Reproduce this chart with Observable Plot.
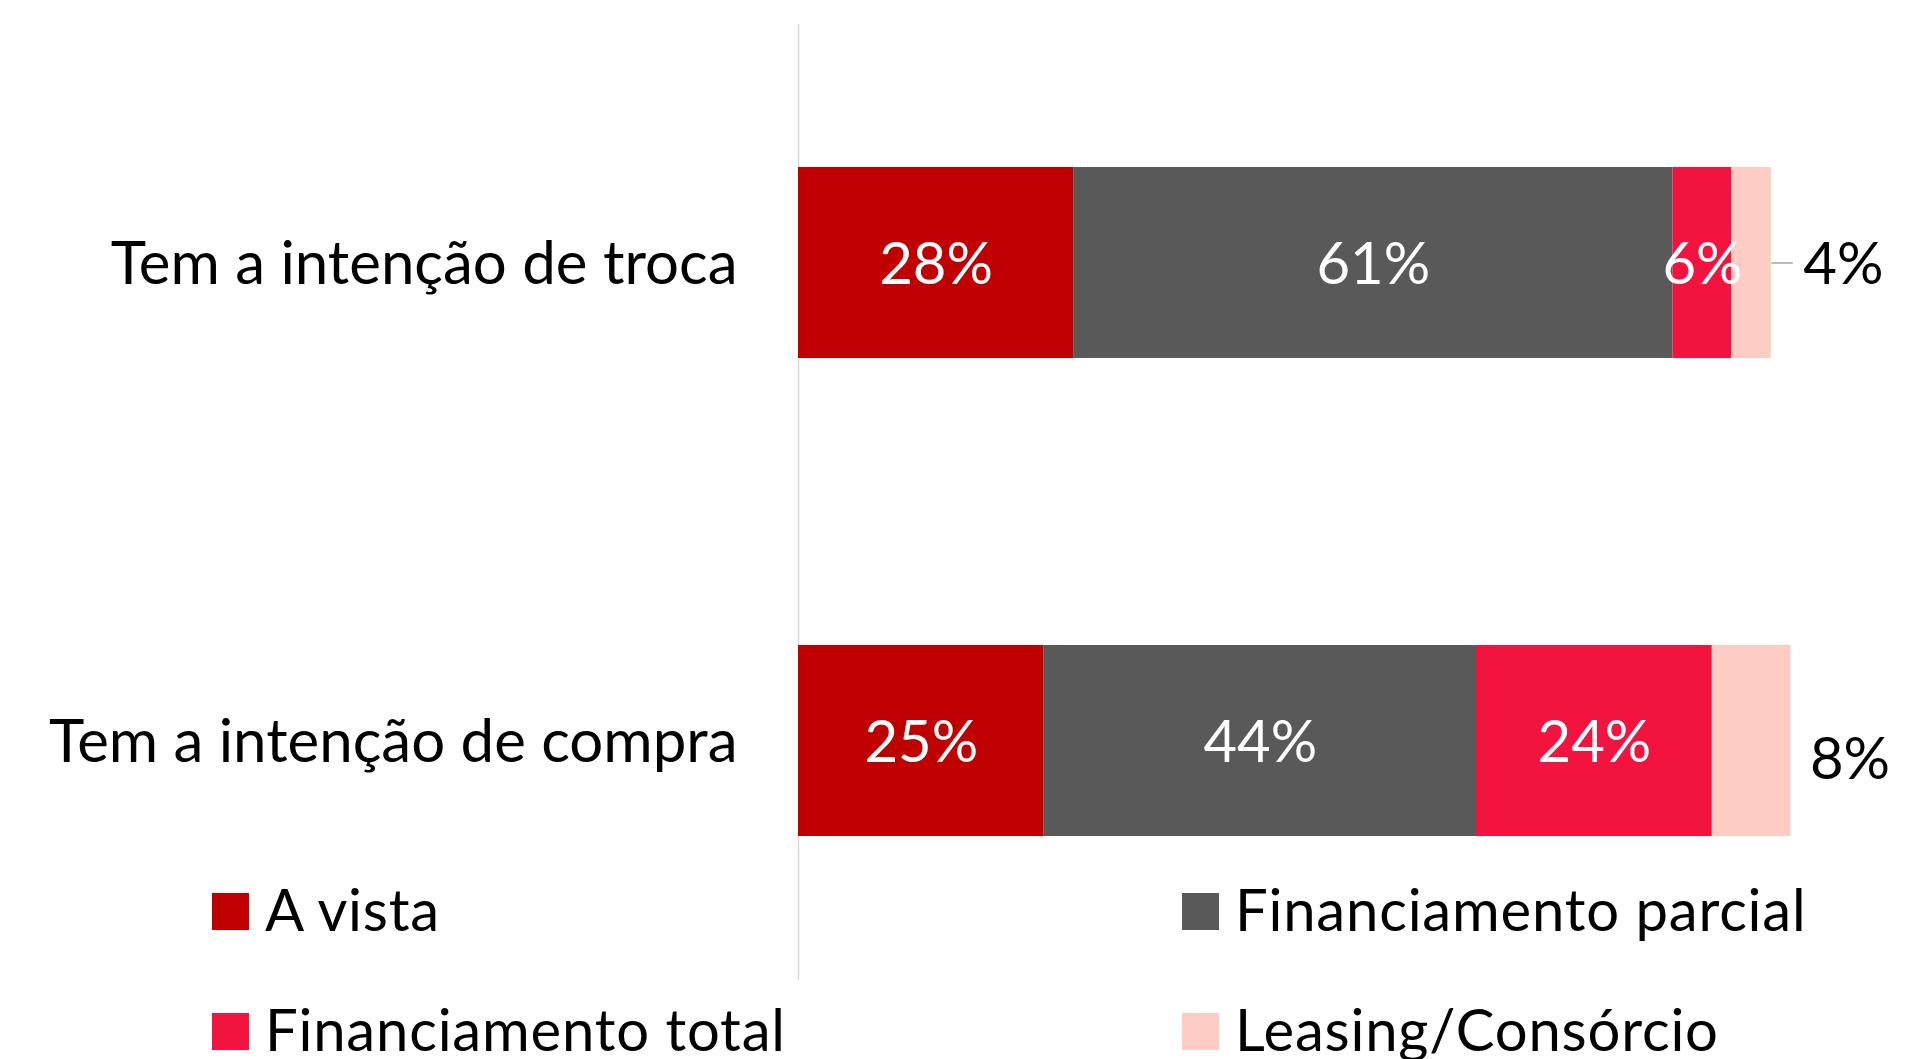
<!DOCTYPE html>
<html>
<head>
<meta charset="utf-8">
<script src="https://cdn.jsdelivr.net/npm/d3@7"></script>
<script src="https://cdn.jsdelivr.net/npm/@observablehq/plot@0.6"></script>
<style>
  html, body { margin: 0; padding: 0; background: #fff; }
  #wrap { position: relative; width: 1932px; height: 1059px; overflow: hidden; font-family: Lato, "Open Sans", sans-serif; }
  #legend { position: absolute; left: 0; top: 0; }
</style>
</head>
<body>
<div id="wrap"></div>
<script>
const categories = ["Tem a intenção de troca", "Tem a intenção de compra"];
const series = ["A vista", "Financiamento parcial", "Financiamento total", "Leasing/Consórcio"];
const trocaValues = [28, 61, 6, 4];
const compraValues = [25, 44, 24, 8];
const colors = ["#C00000", "#595959", "#F2143F", "#FDCCC2"];

const valuesByCategory = [trocaValues, compraValues];
const data = categories.flatMap((c, i) => series.map((s, j) => ({category: c, series: s, value: valuesByCategory[i][j]})));
const totals = categories.map((c, i) => ({category: c, total: d3.sum(valuesByCategory[i]), last: valuesByCategory[i][series.length - 1]}));

const FONT = "Lato, 'Open Sans', sans-serif";
const lastSeries = series[series.length - 1];

const chart = Plot.plot({
  width: 1932,
  height: 981,
  marginLeft: 798,
  marginRight: 151.4,
  marginTop: 24,
  marginBottom: 1,
  style: {fontFamily: FONT, background: "transparent", overflow: "visible"},
  x: {domain: [0, 100], axis: null},
  y: {domain: categories, paddingInner: 0.6, paddingOuter: 0.3, axis: null},
  color: {domain: series, range: colors},
  marks: [
    Plot.ruleX([0], {stroke: "#d9d9d9", strokeWidth: 1.5}),
    Plot.barX(data, Plot.stackX({x: "value", y: "category", fill: "series"})),
    Plot.text(data, Plot.stackX({
      x: "value", y: "category", z: "series",
      text: d => d.series === lastSeries ? "" : d.value + "%",
      fill: "white", fontSize: 58, dy: 2
    })),
    Plot.link(totals.filter(d => d.category === categories[0]), {
      x1: d => d.total, x2: d => d.total + 2.2, y1: "category", y2: "category",
      stroke: "#a6a6a6", strokeWidth: 1.5
    }),
    Plot.text(totals.filter(d => d.category === categories[0]), {
      x: "total", y: "category", text: d => d.last + "%",
      textAnchor: "start", dx: 32, dy: 2, fontSize: 58, fill: "black"
    }),
    Plot.text(totals.filter(d => d.category === categories[1]), {
      x: "total", y: "category", text: d => d.last + "%",
      textAnchor: "start", dx: 19, dy: 19, fontSize: 58, fill: "black"
    }),
    Plot.axisY({tickSize: 0, tickPadding: 61, fontSize: 60, dy: 2, color: "black", label: null})
  ]
});
document.getElementById("wrap").appendChild(chart);

// Legend (two columns, row-major)
const svg = d3.select("#wrap").append("svg")
  .attr("id", "legend").attr("width", 1932).attr("height", 1059)
  .style("pointer-events", "none");
const colX = [212, 1182];
const rowTop = [893, 1013];
const sw = 37;
const item = svg.selectAll("g").data(series).join("g")
  .attr("transform", (d, i) => `translate(${colX[i % 2]},${rowTop[Math.floor(i / 2)]})`);
item.append("rect").attr("width", sw).attr("height", sw).attr("fill", (d, i) => colors[i]);
item.append("text").attr("x", 53).attr("y", 38)
  .attr("font-family", FONT).attr("font-size", 58).attr("letter-spacing", 0.8).attr("fill", "black")
  .text(d => d);
</script>
</body>
</html>
